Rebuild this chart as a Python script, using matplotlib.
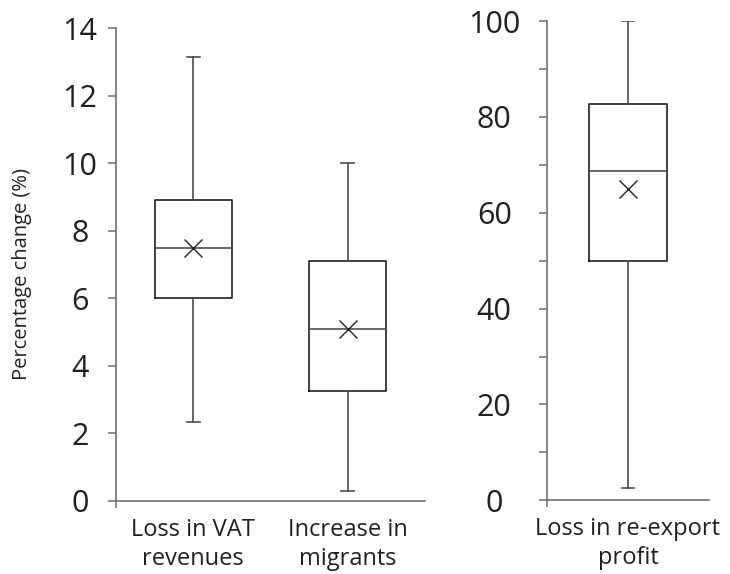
import matplotlib.pyplot as plt

plt.rcParams['font.family'] = ['Open Sans', 'DejaVu Sans']

# box statistics
left_labels = ['Loss in VAT\nrevenues', 'Increase in\nmigrants']
left_whislo = [2.35, 0.3]
left_q1 = [6.0, 3.25]
left_med = [7.5, 5.1]
left_mean = [7.5, 5.1]
left_q3 = [8.9, 7.1]
left_whishi = [13.15, 10.0]

right_labels = ['Loss in re-export\nprofit']
right_whislo = [2.6]
right_q1 = [50.0]
right_med = [68.7]
right_mean = [65.0]
right_q3 = [82.7]
right_whishi = [100.0]

txt = '#231f20'
spine_col = '#6d6e71'


def make_stats(labels, lo, q1, med, mean, q3, hi):
    stats = []
    for i in range(len(labels)):
        stats.append(dict(label=labels[i], whislo=lo[i], q1=q1[i], med=med[i],
                          mean=mean[i], q3=q3[i], whishi=hi[i], fliers=[]))
    return stats


def style_axis(ax, pad):
    for s in ['top', 'right']:
        ax.spines[s].set_visible(False)
    for s in ['left', 'bottom']:
        ax.spines[s].set_color(spine_col)
        ax.spines[s].set_linewidth(1.2)
    ax.tick_params(axis='y', which='both', length=6, width=1.1, color=spine_col,
                   labelsize=22, labelcolor=txt, pad=pad)
    ax.tick_params(axis='x', which='major', length=0, labelsize=17,
                   labelcolor=txt, pad=12)
    ax.tick_params(axis='x', which='minor', length=5, width=1.1, color=spine_col)
    plt.setp(ax.get_yticklabels(), ha='center')
    plt.setp(ax.get_xticklabels(), linespacing=1.3)


boxprops = dict(color=txt, linewidth=1.2)
whiskerprops = dict(color='#4d4d4f', linewidth=1.2)
capprops = dict(color='#4d4d4f', linewidth=1.2)
medianprops = dict(color='#4d4d4f', linewidth=1.2)
meanprops = dict(marker='x', markeredgecolor=txt, markersize=13, markeredgewidth=1.0)

fig = plt.figure(figsize=(7.3, 5.74), dpi=100)

ax1 = fig.add_axes([0.1589, 0.1272, 0.4233, 0.824])
ax1.bxp(make_stats(left_labels, left_whislo, left_q1, left_med, left_mean, left_q3, left_whishi),
        positions=[1, 2], widths=0.5, showmeans=True, showfliers=False,
        boxprops=boxprops, whiskerprops=whiskerprops, capprops=capprops,
        medianprops=medianprops, meanprops=meanprops, capwidths=0.085)
ax1.set_xlim(0.5, 2.5)
ax1.set_ylim(0, 14)
ax1.set_yticks(range(0, 15, 2))
ax1.set_xticks([0.5], minor=True)
style_axis(ax1, 20)
ax1.set_ylabel('Percentage change (%)', fontsize=14.5, color=txt)
ax1.yaxis.set_label_coords(-0.272, 0.48)

ax2 = fig.add_axes([0.7493, 0.1284, 0.2219, 0.835])
ax2.bxp(make_stats(right_labels, right_whislo, right_q1, right_med, right_mean, right_q3, right_whishi),
        positions=[1], widths=0.48, showmeans=True, showfliers=False,
        boxprops=boxprops, whiskerprops=whiskerprops, capprops=capprops,
        medianprops=medianprops, meanprops=meanprops, capwidths=0.08)
ax2.set_xlim(0.5, 1.5)
ax2.set_ylim(0, 100)
ax2.set_yticks(range(0, 101, 20))
ax2.set_yticks(range(10, 100, 20), minor=True)
ax2.set_xticks([0.5], minor=True)
style_axis(ax2, 32)

fig.savefig('out.png', dpi=100)
